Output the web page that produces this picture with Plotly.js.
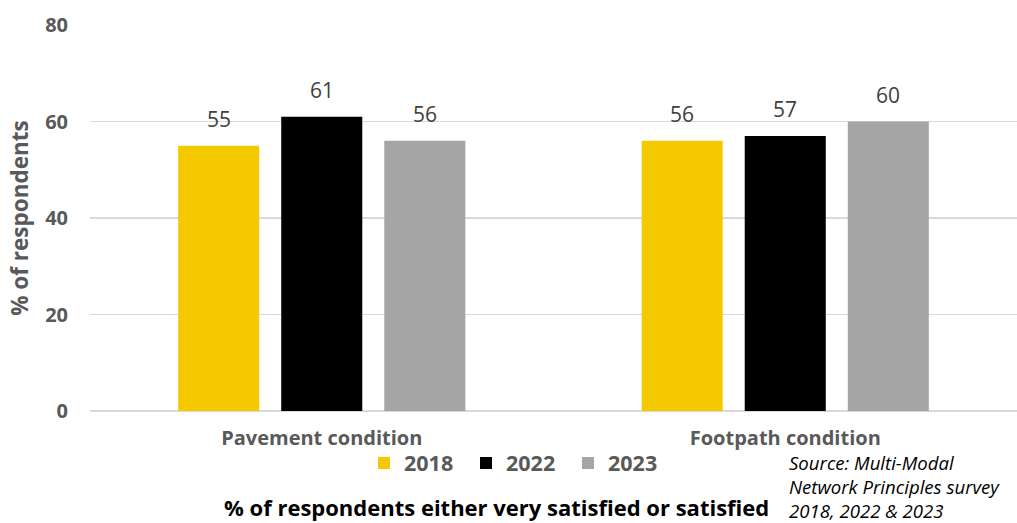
<!DOCTYPE html>
<html>
<head>
<meta charset="utf-8">
<script src="https://cdn.plot.ly/plotly-3.0.1.min.js"></script>
<style>html,body{margin:0;padding:0;background:#fff;}#chart{width:1017px;height:523px;}</style>
</head>
<body>
<div id="chart"></div>
<script>
const categories = ["Pavement condition", "Footpath condition"];
const years = ["2018", "2022", "2023"];
const values2018 = [55, 56];
const values2022 = [61, 57];
const values2023 = [56, 60];
const yTickVals = [0, 20, 40, 60, 80];
const sourceLines = ["Source: Multi-Modal", "Network Principles survey", "2018, 2022 & 2023"];
const xTitle = "% of respondents either very satisfied or satisfied";
const yTitle = "% of respondents";

const colors = ["#F5C900", "#000000", "#A5A5A5"];
const series = [values2018, values2022, values2023];

const W = 1017, H = 523;
const margin = {l: 90, r: 0, t: 25, b: 112};
const bargap = 0.333, bargroupgap = 0.2136;
const FONT = "Open Sans, sans-serif";
const GRAY = "#595959";

const traces = series.map((vals, i) => ({
  type: "bar",
  name: years[i],
  x: categories,
  y: vals,
  marker: {color: colors[i]},
  hoverinfo: "x+y+name"
}));

// data labels above bars, placed from the data values
const plotW = W - margin.l - margin.r;
const plotH = H - margin.t - margin.b;
const catW = plotW / categories.length;
const slot = catW * (1 - bargap) / series.length;
const annotations = [];
series.forEach((vals, i) => {
  vals.forEach((v, j) => {
    annotations.push({
      x: categories[j], y: v, xref: "x", yref: "y",
      text: String(v), showarrow: false, yanchor: "bottom",
      xshift: (i - (series.length - 1) / 2) * slot, yshift: 11,
      font: {family: FONT, size: 21, color: "#404040"}
    });
  });
});
annotations.push({
  xref: "paper", yref: "paper", x: (496 - margin.l) / plotW, y: -(507 - (H - margin.b)) / plotH,
  xanchor: "center", yanchor: "middle", showarrow: false,
  text: "<b>" + xTitle + "</b>",
  font: {family: FONT, size: 22, color: "#000000"}
});
annotations.push({
  xref: "paper", yref: "paper", x: (788 - margin.l) / plotW,
  y: -(486 - (H - margin.b)) / plotH,
  xanchor: "left", yanchor: "middle", align: "left", showarrow: false, borderpad: 0,
  text: sourceLines.map(l => "<i>" + l + "</i>").join("<br>"),
  font: {family: FONT, size: 18.6, color: "#000000"}
});

const layout = {
  width: W, height: H,
  margin: margin,
  paper_bgcolor: "#ffffff", plot_bgcolor: "#ffffff",
  barmode: "group", bargap: bargap, bargroupgap: bargroupgap,
  showlegend: true,
  legend: {
    orientation: "h", xref: "paper", yref: "paper",
    x: (364 - margin.l) / plotW, xanchor: "left",
    y: -(463 - (H - margin.b)) / plotH, yanchor: "middle",
    entrywidth: 57, entrywidthmode: "pixels",
    font: {family: FONT, size: 21.5, color: GRAY, weight: "bold"},
    bgcolor: "rgba(0,0,0,0)"
  },
  xaxis: {
    type: "category", showgrid: false, zeroline: false,
    showline: false, ticks: "",
    tickfont: {family: FONT, size: 20, color: GRAY, weight: "bold"},
    ticklabelstandoff: 13, fixedrange: true
  },
  yaxis: {
    range: [0, 80], tickvals: yTickVals, ticktext: yTickVals.map(String),
    showgrid: true, gridcolor: "#D9D9D9", gridwidth: 1.5,
    zeroline: true, zerolinecolor: "#D9D9D9", zerolinewidth: 1.5,
    showline: false, ticks: "",
    tickfont: {family: FONT, size: 20, color: GRAY, weight: "bold"},
    ticklabelstandoff: 21, fixedrange: true,
    title: {text: yTitle, standoff: 10, font: {family: FONT, size: 22.5, color: GRAY, weight: "bold"}}
  },
  annotations: annotations
};

Plotly.newPlot("chart", traces, layout, {displayModeBar: false, staticPlot: true});
</script>
</body>
</html>
